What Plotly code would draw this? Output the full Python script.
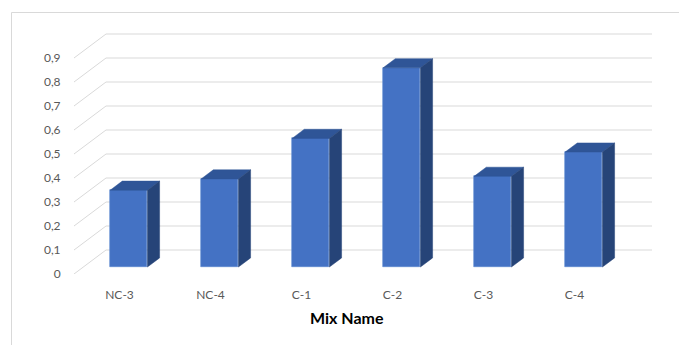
import plotly.graph_objects as go

# Data
mixes = ["NC-3", "NC-4", "C-1", "C-2", "C-3", "C-4"]
values = [0.32, 0.367, 0.536, 0.83, 0.378, 0.479]
y_ticks = [0, 0.1, 0.2, 0.3, 0.4, 0.5, 0.6, 0.7, 0.8, 0.9]
y_tick_text = ["0", "0,1", "0,2", "0,3", "0,4", "0,5", "0,6", "0,7", "0,8", "0,9"]

# Oblique "3-D" projection: depth vector of the floor in axis units
DX, DY = 0.3516, 0.1
F0, FD = 0.29, 0.38      # bar front position and bar depth (fraction of depth)
W = 0.41                 # bar width in category units

FRONT = "#4472C4"
TOP = "#2F5597"
SIDE = "#264478"
GRID = "#D9D9D9"
TEXT = "#595959"

n = len(mixes)
xs = list(range(n))
centers = [i + F0 * DX for i in xs]
base = F0 * DY

fig = go.Figure()

# front faces of the columns
fig.add_trace(go.Bar(
    x=centers, y=values, base=base, width=W,
    marker=dict(color=FRONT, line=dict(color="#5B86D0", width=0.6)),
    hoverinfo="skip", showlegend=False,
))

# top and side faces
top_x, top_y, side_x, side_y = [], [], [], []
for c, v in zip(centers, values):
    l, r = c - W / 2, c + W / 2
    t = base + v
    top_x += [l, r, r + FD * DX, l + FD * DX, l, None]
    top_y += [t, t, t + FD * DY, t + FD * DY, t, None]
    side_x += [r, r + FD * DX, r + FD * DX, r, r, None]
    side_y += [base, base + FD * DY, t + FD * DY, t, base, None]

fig.add_trace(go.Scatter(x=top_x, y=top_y, fill="toself", fillcolor=TOP,
                         mode="lines", line=dict(color=TOP, width=0.5),
                         hoverinfo="skip", showlegend=False))
fig.add_trace(go.Scatter(x=side_x, y=side_y, fill="toself", fillcolor=SIDE,
                         mode="lines", line=dict(color=SIDE, width=0.5),
                         hoverinfo="skip", showlegend=False))

shapes = []
# back-wall gridlines and the diagonals on the side wall
for v in y_ticks:
    shapes.append(dict(type="line", xref="x", yref="y", layer="below",
                       x0=-0.5 + DX, x1=n - 0.5 + DX, y0=v + DY, y1=v + DY,
                       line=dict(color=GRID, width=1)))
    shapes.append(dict(type="line", xref="x", yref="y", layer="below",
                       x0=-0.5, x1=-0.5 + DX, y0=v, y1=v + DY,
                       line=dict(color=GRID, width=1)))

# chart-area border
W_PX, H_PX = 679, 345
ML, MR, MT, MB = 74, 19, 28, 71
pw, ph = W_PX - ML - MR, H_PX - MT - MB
shapes.append(dict(type="rect", xref="paper", yref="paper", layer="below",
                   x0=(11.5 - ML) / pw, x1=(700 - ML) / pw,
                   y0=-(360 - (H_PX - MB)) / ph, y1=1 + (MT - 12.5) / ph,
                   line=dict(color=GRID, width=1), fillcolor="rgba(0,0,0,0)"))

fig.update_layout(
    width=W_PX, height=H_PX,
    margin=dict(l=ML, r=MR, t=MT, b=MB),
    paper_bgcolor="white", plot_bgcolor="white",
    font=dict(family="Lato, 'Noto Sans', sans-serif", size=12, color=TEXT),
    shapes=shapes,
    bargap=0,
    annotations=[dict(text="<b>Mix Name</b>", x=(n - 1) / 2, xref="x",
                      y=-(317.5 - (H_PX - MB)) / ph, yref="paper",
                      showarrow=False, font=dict(size=16, color="#000000"),
                      xanchor="center", yanchor="middle")],
)
fig.update_xaxes(range=[-0.5, (660 - 119.5) / 91], tickmode="array",
                 tickvals=xs, ticktext=mixes, showgrid=False, zeroline=False,
                 showline=False, ticks="outside", ticklen=10,
                 tickcolor="rgba(0,0,0,0)", fixedrange=True)
fig.update_yaxes(range=[0, (274 - MT) / 240], tickmode="array",
                 tickvals=y_ticks, ticktext=y_tick_text, showgrid=False,
                 zeroline=False, showline=False, ticks="outside", ticklen=10,
                 tickcolor="rgba(0,0,0,0)", fixedrange=True)

fig.write_html("out.html")
